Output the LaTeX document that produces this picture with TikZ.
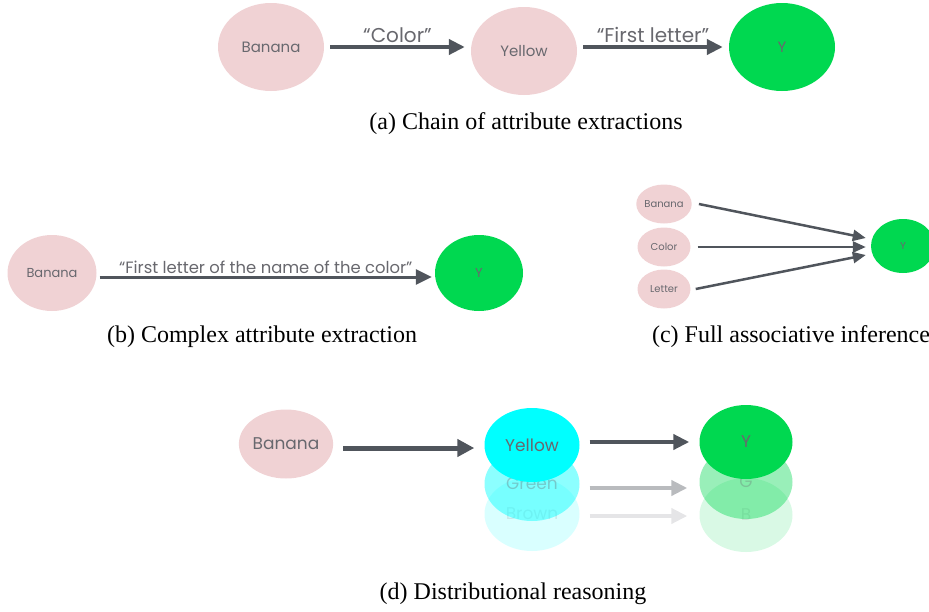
\documentclass[tikz,border=0pt]{standalone}
\usepackage{fontspec}
\setmainfont{Liberation Serif}
\newfontfamily\popfont{Poppins}
\usetikzlibrary{arrows.meta, positioning, shapes.geometric, calc}
\definecolor{pinkfill}{RGB}{240,210,212}
\definecolor{greenfill}{RGB}{0,216,80}
\definecolor{cyanfill}{RGB}{0,255,255}
\definecolor{arrowgray}{RGB}{80,85,92}
\definecolor{labelgray}{RGB}{104,104,110}

\begin{document}
\begin{tikzpicture}[x=1pt, y=-1pt,
    concept/.style={ellipse, fill=pinkfill, inner sep=0pt, text=labelgray, font=\popfont\fontsize{15}{15}\selectfont},
    answer/.style={concept, fill=greenfill},
    link/.style={draw=arrowgray, line width=4pt, -{Triangle[length=16pt, width=15pt]}},
    thinlink/.style={draw=arrowgray, line width=2.5pt, -{Triangle[length=13pt, width=11pt]}},
    edgelabel/.style={above, inner sep=2pt, text=labelgray, font=\popfont\fontsize{20}{20}\selectfont},
    caption/.style={font=\fontsize{24}{26}\selectfont}]
  \useasboundingbox (0,0) rectangle (929,611);

  % (a) Chain: Banana -> Yellow -> Y
  \node[concept, minimum width=106pt, minimum height=88pt] (ban-a) at (271,47) {Banana};
  \node[concept, minimum width=106pt, minimum height=88pt] (yel-a) at (524,51) {Yellow};
  \node[answer, minimum width=106pt, minimum height=88pt] (y-a) at (782,47) {Y};
  \draw[link] ([xshift=6pt]ban-a.east) -- ([xshift=-6pt]ban-a.east -| yel-a.west)
    node[edgelabel, midway] {“Color”};
  \draw[link] ([xshift=6pt]yel-a.east |- y-a.west) -- ([xshift=-6pt]y-a.west)
    node[edgelabel, midway] {“First letter”};
  \node[caption] (cap-a) at (526,124) {(a) Chain of attribute extractions};

  % (b) One complex attribute
  \node[concept, minimum width=89pt, minimum height=76pt, font=\popfont\fontsize{13}{13}\selectfont] (ban-b) at (52,273) {Banana};
  \node[answer, minimum width=88pt, minimum height=76pt, font=\popfont\fontsize{13}{13}\selectfont] (y-b) at (479,273) {Y};
  \draw[link, line width=3pt] ([xshift=3pt,yshift=-4pt]ban-b.east) -- ([xshift=-3pt,yshift=-4pt]y-b.west)
    node[edgelabel, midway, font=\popfont\fontsize{16.4}{16.4}\selectfont] {“First letter of the name of the color”};
  \node[caption] (cap-b) at (262,337) {(b) Complex attribute extraction};

  % (c) Full associative inference
  \node[concept, minimum width=53pt, minimum height=39pt, font=\popfont\fontsize{10}{10}\selectfont] (ban-c) at (664,204) {Banana};
  \node[concept, minimum width=53pt, minimum height=39pt, font=\popfont\fontsize{10}{10}\selectfont] (col-c) at (664,247) {Color};
  \node[concept, minimum width=53pt, minimum height=39pt, font=\popfont\fontsize{10}{10}\selectfont] (let-c) at (664,289) {Letter};
  \node[answer, minimum width=64pt, minimum height=54pt, font=\popfont\fontsize{10}{10}\selectfont] (y-c) at (903,246) {Y};
  \draw[thinlink] ([xshift=7pt]ban-c.east) -- ($(y-c.west)+(-5,-8)$);
  \draw[thinlink] ([xshift=7pt]col-c.east) -- ($(y-c.west)+(-5,1)$);
  \draw[thinlink] ([xshift=5pt]let-c.east) -- ($(y-c.west)+(-5,9)$);
  \node[caption] (cap-c) at (791,337) {(c) Full associative inference};

  % (d) Distribution over answers
  \node[concept, minimum width=93pt, minimum height=69pt, font=\popfont\fontsize{17}{17}\selectfont] (ban-d) at (286,444) {Banana};
  \node[concept, fill=cyanfill, fill opacity=0.15, text opacity=0.15, minimum width=95pt, minimum height=74pt, font=\popfont\fontsize{17}{17}\selectfont] (bro-d) at (532,514) {Brown};
  \node[concept, fill=cyanfill, fill opacity=0.45, text opacity=0.35, minimum width=95pt, minimum height=74pt, font=\popfont\fontsize{17}{17}\selectfont] (gre-d) at (532,484) {Green};
  \node[concept, fill=cyanfill, minimum width=95pt, minimum height=74pt, font=\popfont\fontsize{17}{17}\selectfont] (yel-d) at (532,445) {Yellow};
  \node[answer, fill opacity=0.15, text opacity=0.15, minimum width=93pt, minimum height=74pt, font=\popfont\fontsize{17}{17}\selectfont] (b-d) at (746,515) {B};
  \node[answer, fill opacity=0.4, text opacity=0.3, minimum width=93pt, minimum height=74pt, font=\popfont\fontsize{17}{17}\selectfont] (g-d) at (746,482) {G};
  \node[answer, minimum width=93pt, minimum height=74pt, font=\popfont\fontsize{17}{17}\selectfont] (y-d) at (746,442) {Y};
  \draw[link, line width=5pt, -{Triangle[length=17pt, width=17pt]}] ([xshift=10pt,yshift=-4pt]ban-d.east) -- ([xshift=-10pt,yshift=-4pt]ban-d.east -| yel-d.west);
  \draw[link] ([xshift=10pt]yel-d.east |- y-d.west) -- ([xshift=-10pt]y-d.west);
  \draw[link, draw=arrowgray!40] ([xshift=10pt,yshift=-6pt]g-d.west -| gre-d.east) -- ([xshift=-12pt,yshift=-6pt]g-d.west);
  \draw[link, draw=arrowgray!15] ([xshift=10pt,yshift=-1pt]b-d.west -| bro-d.east) -- ([xshift=-12pt,yshift=-1pt]b-d.west);
  \node[caption] (cap-d) at (513,594) {(d) Distributional reasoning};
\end{tikzpicture}
\end{document}
